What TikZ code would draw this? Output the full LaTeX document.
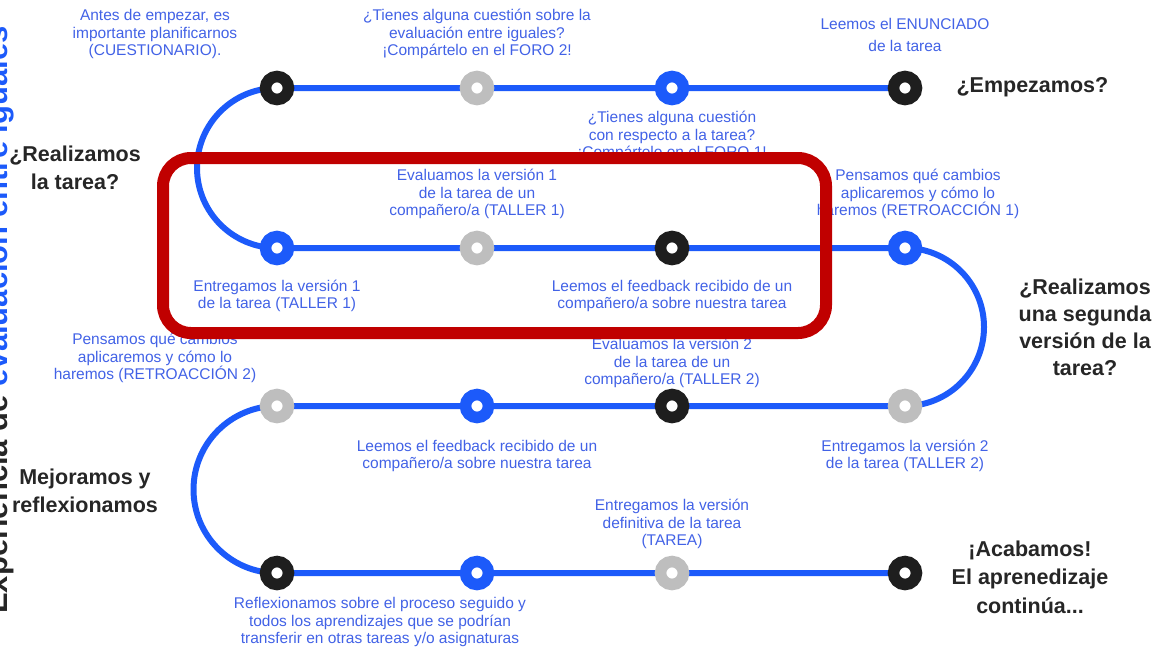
\documentclass[tikz,border=0pt]{standalone}
\usepackage{fontspec}
\setmainfont{Liberation Sans}
\usepackage{tikz}
\usetikzlibrary{backgrounds}
\usepackage{xcolor}
\definecolor{trackblue}{RGB}{28,90,250}
\definecolor{labelblue}{RGB}{66,98,230}
\definecolor{titlegray}{RGB}{38,38,38}
\definecolor{stopblack}{RGB}{30,30,30}
\definecolor{stopgray}{RGB}{190,190,190}
\definecolor{boxred}{RGB}{192,0,0}

\begin{document}
\begin{tikzpicture}[x=1pt,y=-1pt,line cap=round,
  track/.style={trackblue,line width=6pt},
  dotrow/.style={trackblue,line width=3.2pt,dash pattern=on 0pt off 8pt},
  ring/.style={circle,draw=#1,line width=11.5pt,fill=white,minimum size=23pt,inner sep=0pt},
  lbl/.style={text=labelblue,align=center,font=\fontsize{15.5}{17.6}\selectfont},
  ttl/.style={text=titlegray,align=center,font=\bfseries\fontsize{21.5}{28.5}\selectfont}]
\useasboundingbox (0,0) rectangle (1155,649);
\node[rotate=90,anchor=base west,inner sep=0pt,font=\bfseries\fontsize{31}{31}\selectfont] (side) at (7,614)
  {\textcolor{titlegray}{Experiencia de} \textcolor{trackblue}{evaluación entre iguales}};
\node[ring=stopblack] (a1) at (277,88) {};
\node[ring=stopgray] (a2) at (477,88) {};
\node[ring=trackblue] (a3) at (672,88) {};
\node[ring=stopblack] (a4) at (905,88) {};
\node[ring=trackblue] (b1) at (277,248) {};
\node[ring=stopgray] (b2) at (477,248) {};
\node[ring=stopblack] (b3) at (672,248) {};
\node[ring=trackblue] (b4) at (905,248) {};
\node[ring=stopgray] (c1) at (277,406) {};
\node[ring=trackblue] (c2) at (477,406) {};
\node[ring=stopblack] (c3) at (672,406) {};
\node[ring=stopgray] (c4) at (905,406) {};
\node[ring=stopblack] (d1) at (277,573) {};
\node[ring=trackblue] (d2) at (477,573) {};
\node[ring=stopgray] (d3) at (672,573) {};
\node[ring=stopblack] (d4) at (905,573) {};
\coordinate (p1) at (150,166);
\coordinate (p2) at (246,166);
\coordinate (p3) at (934,327);
\coordinate (p4) at (1030,327);
\coordinate (p5) at (158,491);
\coordinate (p6) at (247,491);
\begin{scope}[on background layer]
\draw[dotrow] (p1) -- (p2);
\draw[dotrow] (p3) -- (p4);
\draw[dotrow] (p5) -- (p6);
\draw[track] (a4.center) -- (a1.center) arc[start angle=270,end angle=90,radius=80]
  -- (b4.center) arc[start angle=-90,end angle=90,radius=79]
  -- (c1.center) arc[start angle=270,end angle=90,radius=83.5] -- (d4.center);
\end{scope}
\node[ttl] (q1) at (75,168) {¿Realizamos\\la tarea?};
\node[ttl,anchor=west] (q2) at (953,87) {¿Empezamos?};
\node[ttl,font=\bfseries\fontsize{21.5}{27}\selectfont] (q3) at (1085,327) {¿Realizamos\\una segunda\\versión de la\\tarea?};
\node[ttl] (q4) at (85,491) {Mejoramos y\\reflexionamos};
\node[ttl] (q5) at (1030,577) {¡Acabamos!\\El aprenedizaje\\continúa...};
\node[lbl] (l1) at (155,34) {Antes de empezar, es\\importante planificarnos\\(CUESTIONARIO).};
\node[lbl] (l2) at (477,34) {¿Tienes alguna cuestión sobre la\\evaluación entre iguales?\\¡Compártelo en el FORO 2!};
\node[lbl] (l3) at (905,35) {Leemos el ENUNCIADO\\[5pt]de la tarea};
\node[lbl] (l4) at (672,136) {¿Tienes alguna cuestión\\con respecto a la tarea?\\¡Compártelo en el FORO 1!};
\node[lbl] (l5) at (477,194) {Evaluamos la versión 1\\de la tarea de un\\compañero/a (TALLER 1)};
\node[lbl] (l6) at (918,194) {Pensamos qué cambios\\aplicaremos y cómo lo\\haremos (RETROACCIÓN 1)};
\node[lbl] (l7) at (277,296) {Entregamos la versión 1\\de la tarea (TALLER 1)};
\node[lbl] (l8) at (672,296) {Leemos el feedback recibido de un\\compañero/a sobre nuestra tarea};
\node[lbl] (l9) at (155,358) {Pensamos qué cambios\\aplicaremos y cómo lo\\haremos (RETROACCIÓN 2)};
\node[lbl] (l10) at (672,363) {Evaluamos la versión 2\\de la tarea de un\\compañero/a (TALLER 2)};
\node[lbl] (l11) at (477,456) {Leemos el feedback recibido de un\\compañero/a sobre nuestra tarea};
\node[lbl] (l12) at (905,456) {Entregamos la versión 2\\de la tarea (TALLER 2)};
\node[lbl] (l13) at (672,524) {Entregamos la versión\\definitiva de la tarea\\(TAREA)};
\node[lbl] (l14) at (380,622) {Reflexionamos sobre el proceso seguido y\\todos los aprendizajes que se podrían\\transferir en otras tareas y/o asignaturas};
\draw[boxred,line width=12pt,rounded corners=28pt] (163,158) rectangle (826,333);
\end{tikzpicture}
\end{document}
